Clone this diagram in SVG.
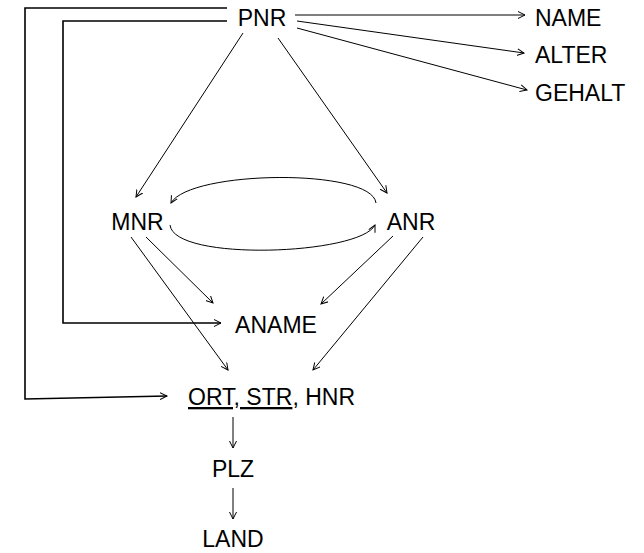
<svg xmlns="http://www.w3.org/2000/svg" width="644" height="553" viewBox="0 0 644 553">
<style>
text{font-family:"Liberation Sans",Arial,sans-serif;font-size:23px;fill:#000}
.c{stroke:#000;stroke-width:1;fill:none}
.b{stroke:#000;stroke-width:1.6;fill:none}
</style>
<defs>
<marker id="a" markerUnits="userSpaceOnUse" markerWidth="10" markerHeight="10" refX="7" refY="4" orient="auto">
<path d="M0,0.5 L7,4 L0,7.5" fill="none" stroke="#000" stroke-width="1"/>
</marker>
</defs>
<rect width="644" height="553" fill="#fff"/>
<g id="connectors">
<polyline class="b" points="227,8 25,8 25,399 167,396" marker-end="url(#a)"/>
<polyline class="b" points="227,21 63,21 63,323 221,323" marker-end="url(#a)"/>
<line class="c" x1="295" y1="15" x2="525" y2="15" marker-end="url(#a)"/>
<line class="c" x1="297" y1="21" x2="524" y2="53" marker-end="url(#a)"/>
<line class="c" x1="297" y1="28" x2="527" y2="90" marker-end="url(#a)"/>
<line class="c" x1="243" y1="33" x2="136" y2="197" marker-end="url(#a)"/>
<line class="c" x1="278" y1="38" x2="387" y2="193" marker-end="url(#a)"/>
<path class="c" d="M376,203 C372,168 190,170 171,203" marker-end="url(#a)"/>
<path class="c" d="M170,225 C174,262 360,255 375,225" marker-end="url(#a)"/>
<line class="c" x1="146" y1="237" x2="213" y2="303" marker-end="url(#a)"/>
<line class="c" x1="131" y1="237" x2="228" y2="370" marker-end="url(#a)"/>
<line class="c" x1="393" y1="236" x2="321" y2="304" marker-end="url(#a)"/>
<line class="c" x1="423" y1="237" x2="313" y2="370" marker-end="url(#a)"/>
<line class="c" x1="233" y1="417" x2="233" y2="448" marker-end="url(#a)"/>
<line class="c" x1="233" y1="488" x2="233" y2="519" marker-end="url(#a)"/>
</g>
<g id="PNR"><text x="262" y="26" text-anchor="middle">PNR</text></g>
<g id="NAME"><text x="535" y="26">NAME</text></g>
<g id="ALTER"><text x="535" y="63">ALTER</text></g>
<g id="GEHALT"><text x="535" y="101">GEHALT</text></g>
<g id="MNR"><text x="137.5" y="230" text-anchor="middle">MNR</text></g>
<g id="ANR"><text x="411" y="230" text-anchor="middle">ANR</text></g>
<g id="ANAME"><text x="276" y="333" text-anchor="middle">ANAME</text></g>
<g id="ORT"><text x="188" y="405"><tspan text-decoration="underline">ORT, STR</tspan>, HNR</text></g>
<g id="PLZ"><text x="233" y="477" text-anchor="middle">PLZ</text></g>
<g id="LAND"><text x="233" y="547" text-anchor="middle">LAND</text></g>
</svg>
